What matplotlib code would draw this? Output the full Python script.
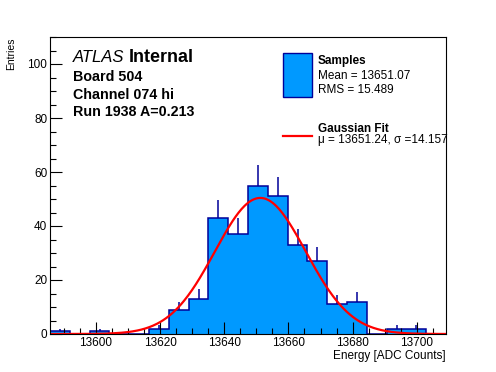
import numpy as np
import matplotlib
matplotlib.use("Agg")
import matplotlib.pyplot as plt
from matplotlib.patches import Rectangle
from matplotlib.lines import Line2D
from matplotlib.ticker import MultipleLocator

plt.rcParams['font.family'] = ['Liberation Sans', 'DejaVu Sans']

# histogram: 20 bins
x_lo, bin_w = 13585.7, 6.17
counts = [1, 0, 1, 0, 0, 2, 9, 13, 43, 37, 55, 51, 33, 27, 11, 12, 0, 2, 2, 0]

fit_amp, fit_mu, fit_sigma = 50.4, 13651.24, 14.157

title_lines = ["Board 504", "Channel 074 hi", "Run 1938 A=0.213"]
leg_samples = ["Samples", "Mean = 13651.07", "RMS = 15.489"]
leg_fit = ["Gaussian Fit", "\u03bc = 13651.24, \u03c3 =14.157"]

FILL = '#0099ff'
EDGE = '#000099'
W, H = 496, 372

def fxy(x, y):
    return x / W, 1 - y / H

fig = plt.figure(figsize=(W / 100, H / 100), dpi=100)
ax = fig.add_axes([50 / W, 1 - 334 / H, 396 / W, 297 / H])

counts = np.array(counts, dtype=float)
edges = x_lo + bin_w * np.arange(len(counts) + 1)
centers = 0.5 * (edges[:-1] + edges[1:])

ax.stairs(counts, edges, fill=True, color=FILL, lw=0)
ax.stairs(counts, edges, color=EDGE, lw=1.1)
nz = counts > 0
ax.vlines(centers[nz], counts[nz], counts[nz] + np.sqrt(counts[nz]), color=EDGE, lw=1.1)

xs = np.linspace(edges[0], edges[-1], 400)
ax.plot(xs, fit_amp * np.exp(-0.5 * ((xs - fit_mu) / fit_sigma) ** 2), color='red', lw=1.6)

ax.set_xlim(edges[0], edges[-1])
ax.set_ylim(0, 110)
ax.xaxis.set_major_locator(MultipleLocator(20))
ax.xaxis.set_minor_locator(MultipleLocator(5))
ax.yaxis.set_major_locator(MultipleLocator(20))
ax.yaxis.set_minor_locator(MultipleLocator(5))
ax.tick_params(which='both', direction='in', labelsize=8.5, width=0.8)
ax.tick_params(which='major', length=8.5)
ax.tick_params(which='minor', length=4.2)
ax.tick_params(axis='x', pad=2.5)
ax.tick_params(axis='y', pad=2)
for s in ax.spines.values():
    s.set_linewidth(0.8)

fig.text(*fxy(446, 356.5), "Energy [ADC Counts]", ha='right', va='center', fontsize=8.5)
fig.text(*fxy(11, 37), "Entries", rotation=90, ha='center', va='top', fontsize=7.5)

# ATLAS label block
atl = fig.text(*fxy(73, 57), "ATLAS", style='italic', fontsize=12, va='center')
rend = fig.canvas.get_renderer()
atl_right = atl.get_window_extent(rend).x1
fig.text((atl_right + 4) / W, 1 - 57 / H, "Internal", weight='bold', fontsize=13, va='center')
for t, y in zip(title_lines, [77, 94.7, 112.5]):
    fig.text(*fxy(73, y), t, weight='bold', fontsize=10.3, va='center')

# legend
bx0, by1 = fxy(283.3, 96.7)
fig.add_artist(Rectangle((bx0, by1), 28.4 / W, 43.4 / H, transform=fig.transFigure,
                         facecolor=FILL, edgecolor=EDGE, lw=1))
lx0, ly = fxy(283, 136)
lx1, _ = fxy(311.7, 136)
fig.add_artist(Line2D([lx0, lx1], [ly, ly], transform=fig.transFigure, color='red', lw=1.6))
for t, y, w in zip(leg_samples, [61, 76, 90], ['bold', 'normal', 'normal']):
    fig.text(*fxy(317.7, y), t, weight=w, fontsize=8.5, va='center')
for t, y, w in zip(leg_fit, [129.3, 140], ['bold', 'normal']):
    fig.text(*fxy(317.7, y), t, weight=w, fontsize=8.5, va='center')

fig.savefig("out.png", dpi=100)
